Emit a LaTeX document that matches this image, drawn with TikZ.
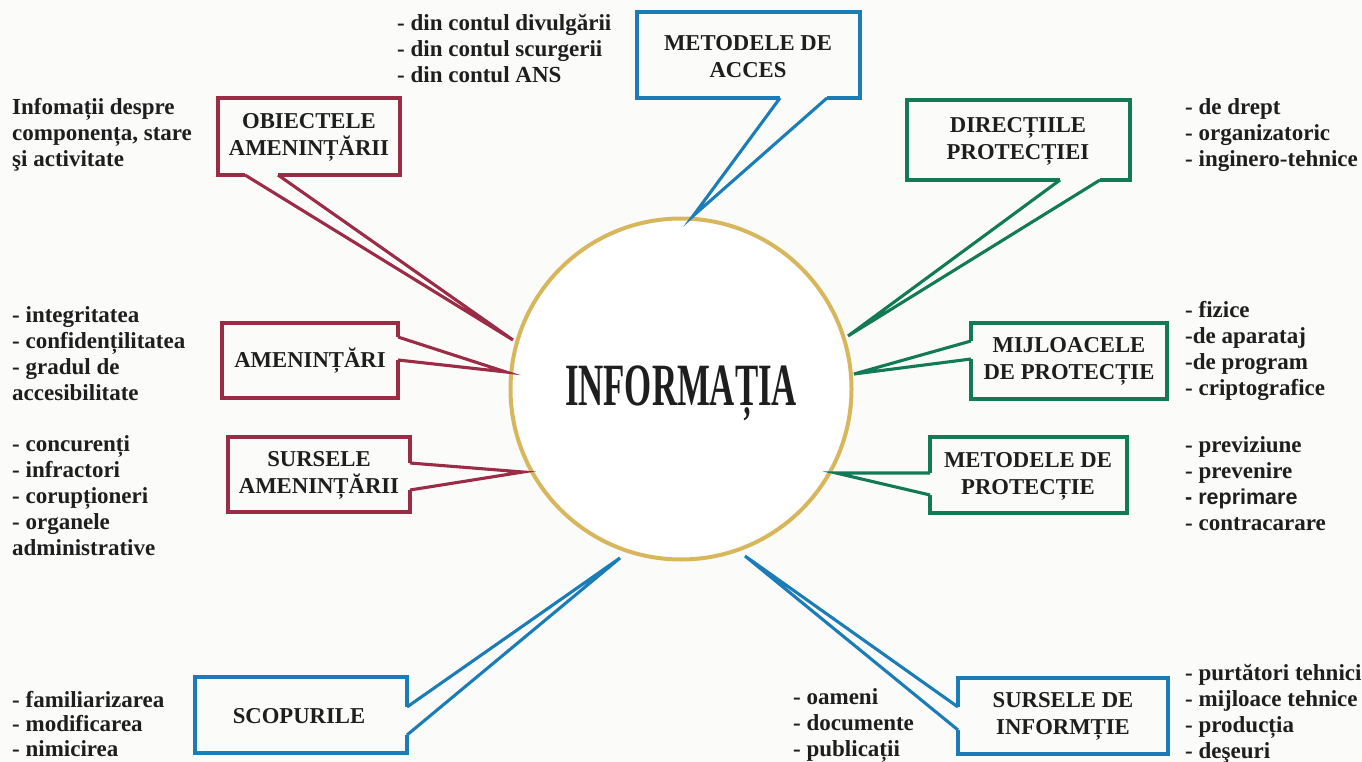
\documentclass[tikz,border=0pt]{standalone}
\usepackage{fontspec}
\setmainfont{Liberation Serif}
\setsansfont{Liberation Sans}
\definecolor{cred}{HTML}{9C2B45}
\definecolor{cblue}{HTML}{1B7DB8}
\definecolor{cgreen}{HTML}{127A57}
\definecolor{cgold}{HTML}{D8B65C}
\definecolor{bgc}{HTML}{FBFCFA}
\definecolor{ink}{HTML}{1E1E1E}
\begin{document}
\begin{tikzpicture}[x=1pt,y=-1pt,
  boxline/.style={line width=4.5pt, line join=miter},
  ptr/.style={line width=3.1pt, line join=miter, line cap=butt},
  lbl/.style={font=\fontsize{22.7}{27}\selectfont\bfseries, align=center, inner sep=0pt, text=ink},
  lst/.style={font=\fontsize{23}{26}\selectfont\bfseries, align=left, anchor=north west, inner sep=0pt, text=ink},
]
\useasboundingbox (0,0) rectangle (1362,762);
\fill[bgc] (0,0) rectangle (1362,762);

% central circle
\node[draw=cgold, line width=4pt, circle, minimum size=341pt, inner sep=0pt, fill=white] (info) at (681,389) {};
\node[anchor=base, inner sep=0pt, text=ink, font=\fontsize{60}{60}\selectfont\bfseries] (infotxt) at (681,405) {\scalebox{0.58}[1]{INFORMAȚIA}};

% tips
\coordinate (tacc) at (693,216);
\coordinate (tobj) at (513,340);
\coordinate (tam) at (506,372);
\coordinate (tsa) at (523,472);
\coordinate (tsc) at (620,558);
\coordinate (tsi) at (745,556);
\coordinate (tdir) at (848,336);
\coordinate (tmij) at (854,374);
\coordinate (tmet) at (836,473);

% METODELE DE ACCES
\draw[boxline, cblue] (780,98) -- (637,98) -- (637,12) -- (860,12) -- (860,98) -- (827,98);
\draw[ptr, cblue] (780,98) -- (tacc) -- (827,98);
\node[lbl] (acc) at (748,57) {METODELE DE\\ACCES};

% OBIECTELE AMENINTARII
\draw[boxline, cred] (245,175) -- (218,175) -- (218,98) -- (400,98) -- (400,175) -- (278,175);
\draw[ptr, cred] (245,175) -- (tobj) -- (278,175);
\node[lbl] (obj) at (309,137) {OBIECTELE\\AMENINȚĂRII};

% AMENINTARI
\draw[boxline, cred] (398,337) -- (398,323) -- (222,323) -- (222,398) -- (398,398) -- (398,360);
\draw[ptr, cred] (398,337) -- (tam) -- (398,360);
\node[lbl] (am) at (310,361) {AMENINȚĂRI};

% SURSELE AMENINTARII
\draw[boxline, cred] (410,463) -- (410,437) -- (228,437) -- (228,512) -- (410,512) -- (410,490);
\draw[ptr, cred] (410,463) -- (tsa) -- (410,490);
\node[lbl] (sa) at (319,475) {SURSELE\\AMENINȚĂRII};

% SCOPURILE
\draw[boxline, cblue] (407,707) -- (407,677) -- (195,677) -- (195,753) -- (407,753) -- (407,735);
\draw[ptr, cblue] (407,707) -- (tsc) -- (407,735);
\node[lbl] (sc) at (299,716) {SCOPURILE};

% SURSELE DE INFORMTIE
\draw[boxline, cblue] (958,707) -- (958,678) -- (1168,678) -- (1168,754) -- (958,754) -- (958,730);
\draw[ptr, cblue] (958,707) -- (tsi) -- (958,730);
\node[lbl] (si) at (1063,716) {SURSELE DE\\INFORMȚIE};

% DIRECTIILE PROTECTIEI
\draw[boxline, cgreen] (1060,180) -- (907,180) -- (907,100) -- (1130,100) -- (1130,180) -- (1100,180);
\draw[ptr, cgreen] (1060,180) -- (tdir) -- (1100,180);
\node[lbl] (dir) at (1018,141) {DIRECȚIILE\\PROTECȚIEI};

% MIJLOACELE DE PROTECTIE
\draw[boxline, cgreen] (971,341) -- (971,323) -- (1167,323) -- (1167,399) -- (971,399) -- (971,359);
\draw[ptr, cgreen] (971,341) -- (tmij) -- (971,359);
\node[lbl] (mij) at (1069,361) {MIJLOACELE\\DE PROTECȚIE};

% METODELE DE PROTECTIE
\draw[boxline, cgreen] (930,473) -- (930,437) -- (1127,437) -- (1127,513) -- (930,513) -- (930,495);
\draw[ptr, cgreen] (930,473) -- (tmet) -- (930,495);
\node[lbl] (met) at (1028,476) {METODELE DE\\PROTECȚIE};

% lists
\node[lst] (lacc) at (397,12) {\strut - din contul divulgării\\- din contul scurgerii\\- din contul ANS};
\node[lst] (lobj) at (12,96) {\strut Infomații despre\\componența, stare\\şi activitate};
\node[lst] (lam) at (12,304) {\strut - integritatea\\- confidențilitatea\\- gradul de\\accesibilitate};
\node[lst] (lsa) at (12,433) {\strut - concurenți\\- infractori\\- corupționeri\\- organele\\administrative};
\node[lst, font=\fontsize{23}{24.5}\selectfont\bfseries] (lsc) at (12,690) {\strut - familiarizarea\\- modificarea\\- nimicirea};
\node[lst] (ldir) at (1185,96) {\strut - de drept\\- organizatoric\\- inginero-tehnice};
\node[lst] (lmij) at (1185,299) {\strut - fizice\\-de aparataj\\-de program\\- criptografice};
\node[lst] (lmet) at (1185,434) {\strut - previziune\\- prevenire\\{\sffamily\fontsize{21.5}{26}\selectfont - reprimare}\\- contracarare};
\node[lst] (lsi) at (1185,662) {\strut - purtători tehnici\\- mijloace tehnice\\- producția\\- deşeuri};
\node[lst] (lsi2) at (793,686) {\strut - oameni\\- documente\\- publicații};
\end{tikzpicture}
\end{document}
